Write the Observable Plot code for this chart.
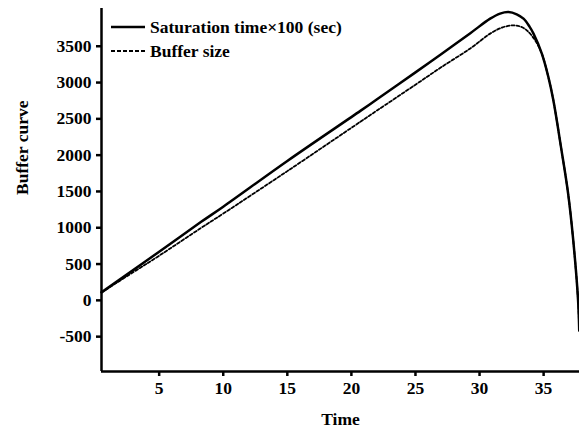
<!DOCTYPE html>
<html>
<head>
<meta charset="utf-8">
<script src="https://cdn.jsdelivr.net/npm/d3@7"></script>
<script src="https://cdn.jsdelivr.net/npm/@observablehq/plot@0.6"></script>
<style>
  html, body { margin: 0; padding: 0; background: #fff; }
  #wrap { position: relative; width: 579px; height: 430px; }
  #legend { position: absolute; left: 111px; top: 15px; font-family: "Liberation Serif", serif; font-weight: bold; font-size: 17.5px; color: #000; }
  #legend .row { display: flex; align-items: center; height: 24px; }
  #legend svg { margin-right: 5px; }
</style>
</head>
<body>
<div id="wrap"><div id="legend"></div></div>
<script>
// Time axis
const xDomain = [0.5, 37.8];
const xTicks = [5, 10, 15, 20, 25, 30, 35];
// Value axis
const yDomain = [-980, 4020];
const yTicks = [-500, 0, 500, 1000, 1500, 2000, 2500, 3000, 3500];

const seriesNames = ["Saturation time×100 (sec)", "Buffer size"];

// Saturation time x100 (sec)
const satTime = [0.5, 3, 5, 8.25, 10, 15, 20.7, 22, 25, 27, 29.28, 30.83, 31.6, 32.26, 32.9, 33.43, 33.9, 34.21, 34.86, 35.37, 35.76, 36.36, 36.91, 37.3, 37.69, 37.78];
const satVal  = [110, 420, 670, 1078, 1290, 1920, 2610, 2770, 3140, 3390, 3680, 3880, 3950, 3971, 3940, 3880, 3770, 3674, 3398, 3076, 2755, 2107, 1474, 850, 0, -420];

// Buffer size
const bufTime = [0.5, 3, 5, 8.25, 10, 15, 20.7, 22, 25, 27, 29.28, 30.83, 31.8, 32.65, 33.2, 33.69, 34.34, 34.86, 35.37, 35.76, 36.36, 36.91, 37.3, 37.69, 37.78];
const bufVal  = [110, 390, 615, 995, 1195, 1780, 2460, 2615, 2970, 3210, 3470, 3674, 3760, 3788, 3770, 3719, 3581, 3398, 3076, 2755, 2107, 1474, 850, 0, -420];

const data = [
  ...satTime.map((t, i) => ({t, v: satVal[i], s: seriesNames[0]})),
  ...bufTime.map((t, i) => ({t, v: bufVal[i], s: seriesNames[1]}))
];

const font = {fontFamily: "Liberation Serif", fontWeight: "bold", fontSize: 17.5};

const chart = Plot.plot({
  width: 579,
  height: 430,
  marginLeft: 101,
  marginRight: 0,
  marginTop: 8,
  marginBottom: 59,
  style: {fontFamily: "Liberation Serif", fontSize: "17.5px", fontWeight: "bold", background: "#fff", color: "#000", overflow: "visible"},
  x: {domain: xDomain, ticks: xTicks},
  y: {domain: yDomain, ticks: yTicks},
  marks: [
    Plot.axisX({ticks: xTicks, tickSize: 5, tickPadding: 5, strokeWidth: 2.5, label: null, fontSize: 17.5, tickFormat: d => String(d)}),
    Plot.axisY({ticks: yTicks, tickSize: 5, tickPadding: 5, strokeWidth: 2.5, label: null, fontSize: 17.5, tickFormat: d => String(d)}),
    Plot.ruleX([xDomain[0]], {stroke: "#000", strokeWidth: 2.5}),
    Plot.ruleY([yDomain[0]], {stroke: "#000", strokeWidth: 2.5}),
    Plot.line(data.filter(d => d.s === seriesNames[1]), {x: "t", y: "v", stroke: "#000", strokeWidth: 1.8, strokeDasharray: "3,2", curve: "catmull-rom"}),
    Plot.line(data.filter(d => d.s === seriesNames[0]), {x: "t", y: "v", stroke: "#000", strokeWidth: 2.5, curve: "catmull-rom"}),
    Plot.text(["Time"], {frameAnchor: "bottom", text: d => d, dy: 48, lineAnchor: "middle", ...font}),
    Plot.text(["Buffer curve"], {frameAnchor: "left", text: d => d, rotate: -90, dx: -79, dy: 5, lineAnchor: "middle", ...font})
  ]
});

const wrap = document.getElementById("wrap");
wrap.insertBefore(chart, wrap.firstChild);

const legend = document.getElementById("legend");
const dashes = [null, "4,2"];
seriesNames.forEach((name, i) => {
  const row = document.createElement("div");
  row.className = "row";
  row.innerHTML = `<svg width="34" height="6"><line x1="0" y1="3" x2="34" y2="3" stroke="#000" stroke-width="${i ? 2 : 2.5}" ${dashes[i] ? `stroke-dasharray="${dashes[i]}"` : ""}/></svg><span>${name}</span>`;
  legend.appendChild(row);
});
</script>
</body>
</html>
